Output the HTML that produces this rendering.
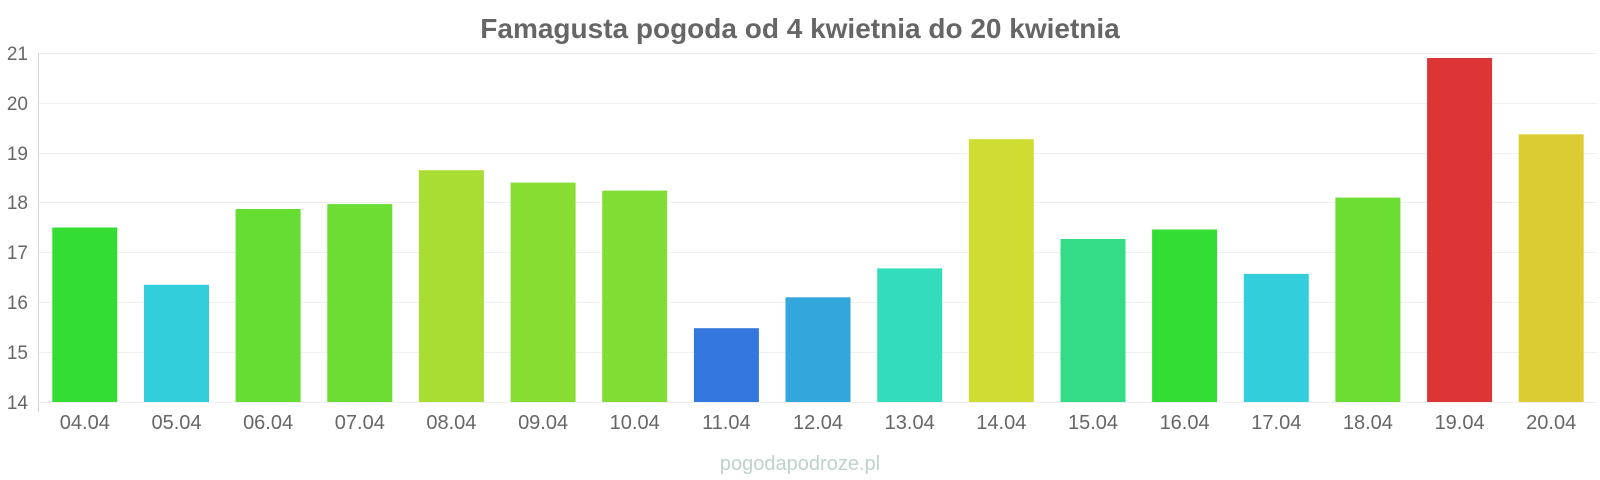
<!DOCTYPE html>
<html><head><meta charset="utf-8"><style>
body{margin:0;background:#fff;}
svg{display:block;font-family:"Liberation Sans",sans-serif;}
</style></head><body>
<svg width="1600" height="480" xmlns="http://www.w3.org/2000/svg">
<rect width="1600" height="480" fill="#fff"/>
<text x="800" y="38" text-anchor="middle" font-size="28" font-weight="bold" fill="#666">Famagusta pogoda od 4 kwietnia do 20 kwietnia</text>
<g stroke="#f0f0f0" stroke-width="1">
<line x1="39" x2="1597" y1="53.5" y2="53.5"/>
<line x1="39" x2="1597" y1="103.5" y2="103.5"/>
<line x1="39" x2="1597" y1="153.5" y2="153.5"/>
<line x1="39" x2="1597" y1="202.5" y2="202.5"/>
<line x1="39" x2="1597" y1="252.5" y2="252.5"/>
<line x1="39" x2="1597" y1="302.5" y2="302.5"/>
<line x1="39" x2="1597" y1="352.5" y2="352.5"/>
<line x1="39" x2="1597" y1="402.5" y2="402.5"/>
</g>
<line x1="38.5" x2="38.5" y1="53" y2="412" stroke="#ccd6d6"/>
<g font-size="19" fill="#666" text-anchor="end">
<text x="28" y="60">21</text><text x="28" y="110">20</text><text x="28" y="160">19</text>
<text x="28" y="209">18</text><text x="28" y="259">17</text><text x="28" y="309">16</text>
<text x="28" y="359">15</text><text x="28" y="409">14</text>
</g>
<g>
<rect x="52.3" y="227.5" width="65" height="174.5" fill="#33dd33"/>
<rect x="144.0" y="284.8" width="65" height="117.2" fill="#33cedb"/>
<rect x="235.6" y="209.0" width="65" height="193.0" fill="#66dd33"/>
<rect x="327.3" y="204.1" width="65" height="197.9" fill="#6bdd33"/>
<rect x="418.9" y="170.2" width="65" height="231.8" fill="#aadd33"/>
<rect x="510.6" y="182.6" width="65" height="219.4" fill="#88dd33"/>
<rect x="602.2" y="190.6" width="65" height="211.4" fill="#80dd33"/>
<rect x="693.9" y="328.2" width="65" height="73.8" fill="#3377dd"/>
<rect x="785.5" y="297.3" width="65" height="104.7" fill="#33a6db"/>
<rect x="877.2" y="268.4" width="65" height="133.6" fill="#33ddbb"/>
<rect x="968.8" y="139.2" width="65" height="262.8" fill="#cfdd33"/>
<rect x="1060.5" y="239.0" width="65" height="163.0" fill="#33dd88"/>
<rect x="1152.1" y="229.5" width="65" height="172.5" fill="#33dd33"/>
<rect x="1243.8" y="273.9" width="65" height="128.1" fill="#33cedb"/>
<rect x="1335.4" y="197.6" width="65" height="204.4" fill="#6bdd33"/>
<rect x="1427.1" y="58.0" width="65" height="344.0" fill="#dd3535"/>
<rect x="1518.7" y="134.3" width="65" height="267.7" fill="#dccc33"/>
</g>
<g font-size="20" fill="#666" text-anchor="middle">
<text x="84.8" y="429">04.04</text>
<text x="176.5" y="429">05.04</text>
<text x="268.1" y="429">06.04</text>
<text x="359.8" y="429">07.04</text>
<text x="451.4" y="429">08.04</text>
<text x="543.1" y="429">09.04</text>
<text x="634.7" y="429">10.04</text>
<text x="726.4" y="429">11.04</text>
<text x="818.0" y="429">12.04</text>
<text x="909.7" y="429">13.04</text>
<text x="1001.3" y="429">14.04</text>
<text x="1093.0" y="429">15.04</text>
<text x="1184.6" y="429">16.04</text>
<text x="1276.3" y="429">17.04</text>
<text x="1367.9" y="429">18.04</text>
<text x="1459.6" y="429">19.04</text>
<text x="1551.2" y="429">20.04</text>
</g>
<text x="800" y="470" text-anchor="middle" font-size="20" fill="#bfd1cc">pogodapodroze.pl</text>
</svg>
</body></html>
